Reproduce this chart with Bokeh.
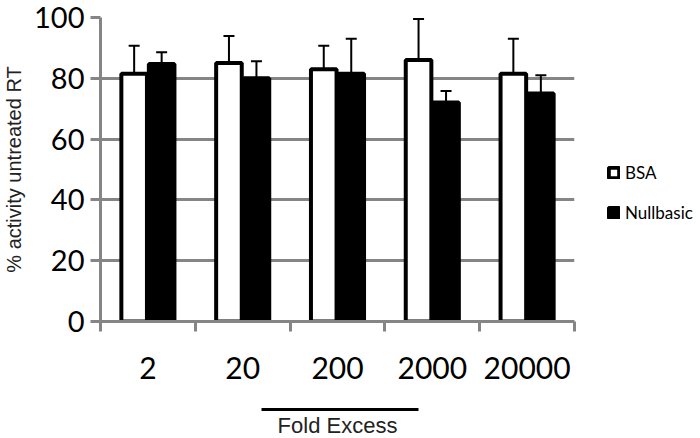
from bokeh.plotting import figure
from bokeh.models import (ColumnDataSource, FixedTicker, LinearAxis, Whisker,
                          TeeHead, Legend, LegendItem, Range1d)
from bokeh.transform import dodge
from bokeh.embed import file_html
from bokeh.resources import INLINE

categories = ["2", "20", "200", "2000", "20000"]
bsa = [81.5, 85.0, 83.0, 86.0, 81.5]
bsa_err = [9.2, 8.9, 7.7, 13.5, 11.5]
nullbasic = [84.7, 80.0, 81.5, 72.0, 75.0]
nullbasic_err = [3.9, 5.6, 11.5, 3.8, 6.0]
y_ticks = [0, 20, 40, 60, 80, 100]

n = len(categories)
centers = [i + 0.5 for i in range(n)]
src = ColumnDataSource(dict(
    x=centers,
    bsa=bsa,
    bsa_up=[v + e for v, e in zip(bsa, bsa_err)],
    nb=nullbasic,
    nb_up=[v + e for v, e in zip(nullbasic, nullbasic_err)],
))

GRID = "#858585"
FW, FH = 474, 304

p = figure(frame_width=FW, frame_height=FH, output_backend="svg", toolbar_location=None,
           x_range=Range1d(0, n), y_range=Range1d(0, 100),
           x_axis_location=None, y_axis_location=None,
           min_border_left=93, min_border_right=110, min_border_top=17,
           min_border_bottom=10)
p.outline_line_color = None
p.background_fill_color = "white"

# y axis
yax = LinearAxis(ticker=FixedTicker(ticks=y_ticks))
yax.axis_line_color = GRID
yax.axis_line_width = 3
yax.major_tick_line_color = GRID
yax.major_tick_line_width = 3
yax.major_tick_out = 10
yax.major_tick_in = 0
yax.minor_tick_line_color = None
yax.major_label_text_font = "Lato"
yax.major_label_text_font_size = "29px"
yax.major_label_text_color = "black"
yax.major_label_standoff = 6
yax.axis_label = "% activity untreated RT"
yax.axis_label_text_font = "Liberation Sans"
yax.axis_label_text_font_style = "normal"
yax.axis_label_text_font_size = "20px"
yax.axis_label_text_color = "#222222"
yax.axis_label_standoff = 6
p.add_layout(yax, "left")

# x axis: labels at centres, ticks at category boundaries
xax = LinearAxis(ticker=FixedTicker(ticks=centers, minor_ticks=list(range(n + 1))))
xax.major_label_overrides = {c: lab for c, lab in zip(centers, categories)}
xax.axis_line_color = GRID
xax.axis_line_width = 3
xax.major_tick_line_color = None
xax.major_tick_out = 0
xax.major_tick_in = 0
xax.minor_tick_line_color = GRID
xax.minor_tick_line_width = 3
xax.minor_tick_out = 10
xax.minor_tick_in = 0
xax.major_label_text_font = "Lato"
xax.major_label_text_font_size = "30px"
xax.major_label_text_color = "black"
xax.major_label_standoff = 25
xax.axis_label = "\u00a0"
xax.axis_label_text_font_size = "22px"
xax.axis_label_standoff = 0
p.add_layout(xax, "below")

# Fold Excess title with a short rule above
tax = LinearAxis(ticker=FixedTicker(ticks=[]), bounds=(1.7, 3.35))
tax.axis_line_color = "black"
tax.axis_line_width = 3
tax.major_tick_line_color = None
tax.minor_tick_line_color = None
tax.major_label_text_font_size = "0px"
tax.axis_label = "Fold Excess"
tax.axis_label_text_font = "Liberation Sans"
tax.axis_label_text_font_style = "normal"
tax.axis_label_text_font_size = "22px"
tax.axis_label_text_color = "#222222"
tax.axis_label_standoff = 3
p.add_layout(tax, "below")

p.xgrid.visible = False
p.ygrid.ticker = FixedTicker(ticks=y_ticks)
p.ygrid.grid_line_color = GRID
p.ygrid.grid_line_width = 3

r_bsa = p.vbar(x=dodge("x", -0.145), top="bsa", bottom=0, width=0.27, source=src,
               fill_color="white", line_color="black", line_width=4)
r_nb = p.vbar(x=dodge("x", 0.145), top="nb", bottom=0, width=0.27, source=src,
              fill_color="black", line_color="black", line_width=4)

for xs, lo, hi in ((dodge("x", -0.145), "bsa", "bsa_up"), (dodge("x", 0.145), "nb", "nb_up")):
    w = Whisker(base=xs, lower=lo, upper=hi, source=src, dimension="height",
                line_color="black", line_width=2, level="glyph",
                upper_head=TeeHead(size=11, line_color="black", line_width=2),
                lower_head=None)
    p.add_layout(w)

legend = Legend(items=[LegendItem(label="BSA", renderers=[r_bsa]),
                       LegendItem(label="Nullbasic", renderers=[r_nb])],
                location=(33, 98))
legend.label_text_font = "Lato"
legend.label_text_font_size = "17px"
legend.label_text_color = "black"
legend.glyph_width = 13
legend.glyph_height = 13
legend.label_standoff = 5
legend.spacing = 19
legend.padding = 0
legend.margin = 0
legend.border_line_color = None
legend.background_fill_alpha = 0
p.add_layout(legend, "right")

open("out.html", "w").write(file_html(p, INLINE))
